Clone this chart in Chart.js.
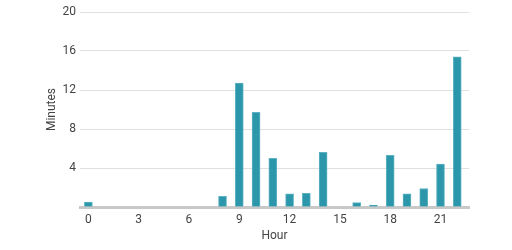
<!DOCTYPE html>
<html>
<head>
<meta charset="utf-8">
<script src="https://cdn.jsdelivr.net/npm/chart.js@4/dist/chart.umd.min.js"></script>
<style>
html,body{margin:0;padding:0;background:#fff;}
#wrap{width:512px;height:250px;}
</style>
</head>
<body>
<div id="wrap"><canvas id="c" width="512" height="250"></canvas></div>
<script>
const hours = [0,1,2,3,4,5,6,7,8,9,10,11,12,13,14,15,16,17,18,19,20,21,22];
const minutes = [0.5,0,0,0,0,0,0,0,1.1,12.7,9.7,5.0,1.35,1.4,5.6,0,0.45,0.2,5.3,1.35,1.9,4.4,15.4];
const xTickLabels = [0,3,6,9,12,15,18,21];
const yTickLabels = [0,4,8,12,16,20];

const points = hours.map((h,i)=>({x:h,y:minutes[i]}));
const font = {family:'Roboto', size:12};

new Chart(document.getElementById('c'), {
  type:'bar',
  data:{datasets:[{data:points, backgroundColor:'#2C97AB', borderColor:'#5DB3C3', borderWidth:1, barThickness:8}]},
  options:{
    responsive:false, animation:false, devicePixelRatio:1,
    layout:{padding:{top:12,right:43,left:0,bottom:0}},
    plugins:{legend:{display:false}, tooltip:{enabled:false}},
    scales:{
      x:{type:'linear', min:-0.5, max:22.7, offset:false, z:1,
        grid:{display:false, drawTicks:false},
        border:{display:true, color:'#c8c8c8', width:3},
        afterBuildTicks:(s)=>{s.ticks = xTickLabels.map(v=>({value:v}));},
        afterFit:(s)=>{s.height = 43;},
        ticks:{font:font, color:'#444', padding:6, maxRotation:0, autoSkip:false},
        title:{display:true, text:'Hour', font:font, color:'#444', padding:{top:0,bottom:7}}
      },
      y:{min:0, max:20,
        afterBuildTicks:(s)=>{s.ticks = yTickLabels.map(v=>({value:v}));},
        afterFit:(s)=>{s.width = 80;},
        grid:{color:'#e0e0e0', lineWidth:1, drawTicks:false},
        border:{display:false},
        ticks:{font:font, color:'#444', padding:4, callback:(v)=> v===0 ? '' : String(v)},
        title:{display:true, text:'Minutes', font:font, color:'#444', padding:{top:45,bottom:0}}
      }
    }
  }
});
</script>
</body>
</html>
